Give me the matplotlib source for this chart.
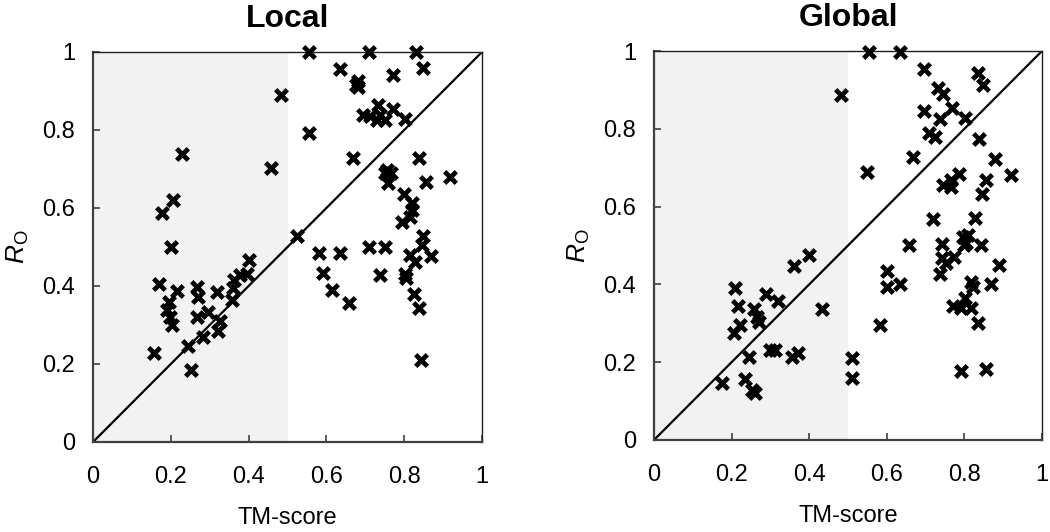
import matplotlib
matplotlib.use("Agg")
import matplotlib.pyplot as plt
import numpy as np

plt.rcParams.update({"font.family": ["Liberation Sans", "DejaVu Sans"],
                     "mathtext.fontset": "custom",
                     "mathtext.rm": "Liberation Sans",
                     "mathtext.it": "Liberation Sans:italic"})

# ---- data (TM-score, R_O) ----
local_tm = [0.157, 0.17, 0.178, 0.206, 0.228, 0.20, 0.215, 0.196, 0.191, 0.198,
            0.202, 0.268, 0.271, 0.268, 0.296, 0.32, 0.245, 0.252, 0.282, 0.322,
            0.326, 0.357, 0.361, 0.362, 0.378, 0.395, 0.40, 0.457, 0.483,
            0.524, 0.555, 0.71, 0.83, 0.635, 0.849, 0.772, 0.68, 0.682, 0.675,
            0.733, 0.695, 0.712, 0.738, 0.772, 0.729, 0.75, 0.802, 0.555, 0.668,
            0.839, 0.755, 0.75, 0.765, 0.759, 0.855, 0.918, 0.80, 0.819, 0.819,
            0.794, 0.815, 0.581, 0.636, 0.71, 0.75, 0.849, 0.815, 0.845, 0.868,
            0.828, 0.592, 0.614, 0.659, 0.738, 0.802, 0.805, 0.826, 0.839, 0.842]
local_ro = [0.227, 0.405, 0.586, 0.62, 0.738, 0.50, 0.388, 0.36, 0.338, 0.32,
            0.30, 0.398, 0.372, 0.32, 0.334, 0.384, 0.246, 0.185, 0.268, 0.285,
            0.31, 0.364, 0.394, 0.415, 0.428, 0.432, 0.467, 0.702, 0.89,
            0.527, 1.0, 1.0, 1.0, 0.956, 0.958, 0.941, 0.926, 0.911, 0.915,
            0.864, 0.838, 0.836, 0.838, 0.853, 0.826, 0.826, 0.828, 0.793, 0.727,
            0.727, 0.697, 0.689, 0.69, 0.663, 0.666, 0.68, 0.636, 0.612, 0.595,
            0.565, 0.578, 0.484, 0.484, 0.499, 0.499, 0.527, 0.479, 0.505, 0.477,
            0.462, 0.434, 0.39, 0.356, 0.428, 0.432, 0.42, 0.38, 0.343, 0.21]

global_tm = [0.483, 0.399, 0.361, 0.209, 0.217, 0.289, 0.319, 0.259, 0.265, 0.27,
             0.221, 0.206, 0.433, 0.246, 0.30, 0.312, 0.356, 0.37, 0.175, 0.234,
             0.253, 0.261,
             0.554, 0.634, 0.696, 0.834, 0.847, 0.732, 0.746, 0.768, 0.696, 0.738,
             0.802, 0.709, 0.725, 0.838, 0.668, 0.548, 0.88, 0.919, 0.787, 0.766,
             0.745, 0.766, 0.855, 0.845, 0.719, 0.828, 0.658, 0.743, 0.796, 0.808,
             0.80, 0.844, 0.804, 0.743, 0.736, 0.753, 0.774, 0.889, 0.60, 0.60,
             0.634, 0.817, 0.821, 0.868, 0.802, 0.77, 0.791, 0.817, 0.834, 0.583,
             0.511, 0.511, 0.791, 0.855]
global_ro = [0.887, 0.476, 0.447, 0.392, 0.344, 0.375, 0.357, 0.336, 0.317, 0.304,
             0.296, 0.274, 0.336, 0.214, 0.231, 0.231, 0.214, 0.223, 0.147, 0.156,
             0.129, 0.122,
             0.998, 0.998, 0.954, 0.943, 0.913, 0.904, 0.889, 0.853, 0.847, 0.824,
             0.829, 0.79, 0.778, 0.774, 0.728, 0.69, 0.722, 0.681, 0.684, 0.668,
             0.656, 0.651, 0.668, 0.632, 0.568, 0.571, 0.501, 0.504, 0.523, 0.527,
             0.501, 0.501, 0.506, 0.467, 0.428, 0.454, 0.471, 0.45, 0.435, 0.394,
             0.401, 0.407, 0.394, 0.40, 0.364, 0.344, 0.339, 0.339, 0.30, 0.296,
             0.21, 0.159, 0.178, 0.182]

ticks = [0, 0.2, 0.4, 0.6, 0.8, 1]
tick_labels = ["0", "0.2", "0.4", "0.6", "0.8", "1"]

W, H = 1050, 532
fig = plt.figure(figsize=(W / 100, H / 100), dpi=100)
boxes = [(93, 442, 389, 390), (654, 440, 388, 389)]
panels = [("Local", local_tm, local_ro), ("Global", global_tm, global_ro)]

for (x0, yb, w, h), (title, tm, ro) in zip(boxes, panels):
    ax = fig.add_axes([x0 / W, (H - yb) / H, w / W, h / H])
    ax.axvspan(0, 0.5, color="#f2f2f2", lw=0, zorder=0)
    ax.plot([0, 1], [0, 1], color="black", lw=1.6, zorder=1)
    ax.scatter(tm, ro, marker="x", s=70, linewidths=3.4, color="black",
               zorder=3, clip_on=False)
    ax.set_xlim(0, 1); ax.set_ylim(0, 1)
    ax.set_xticks(ticks); ax.set_xticklabels(tick_labels)
    ax.set_yticks(ticks); ax.set_yticklabels(tick_labels)
    ax.tick_params(direction="in", length=5, width=1.2, color="#404040",
                   labelsize=17)
    ax.tick_params(axis="x", pad=17)
    ax.tick_params(axis="y", pad=13)
    for side in ["left", "bottom"]:
        ax.spines[side].set_linewidth(1.6); ax.spines[side].set_color("#404040")
    for side in ["top", "right"]:
        ax.spines[side].set_linewidth(1.0); ax.spines[side].set_color("#202020")
    ax.set_title(title, fontsize=23, fontweight="bold", pad=18)
    ax.set_xlabel("TM-score", fontsize=17, labelpad=14)
    ax.set_ylabel(r"$R_\mathrm{O}$", fontsize=19, labelpad=8)

fig.savefig("out.png", dpi=100)
